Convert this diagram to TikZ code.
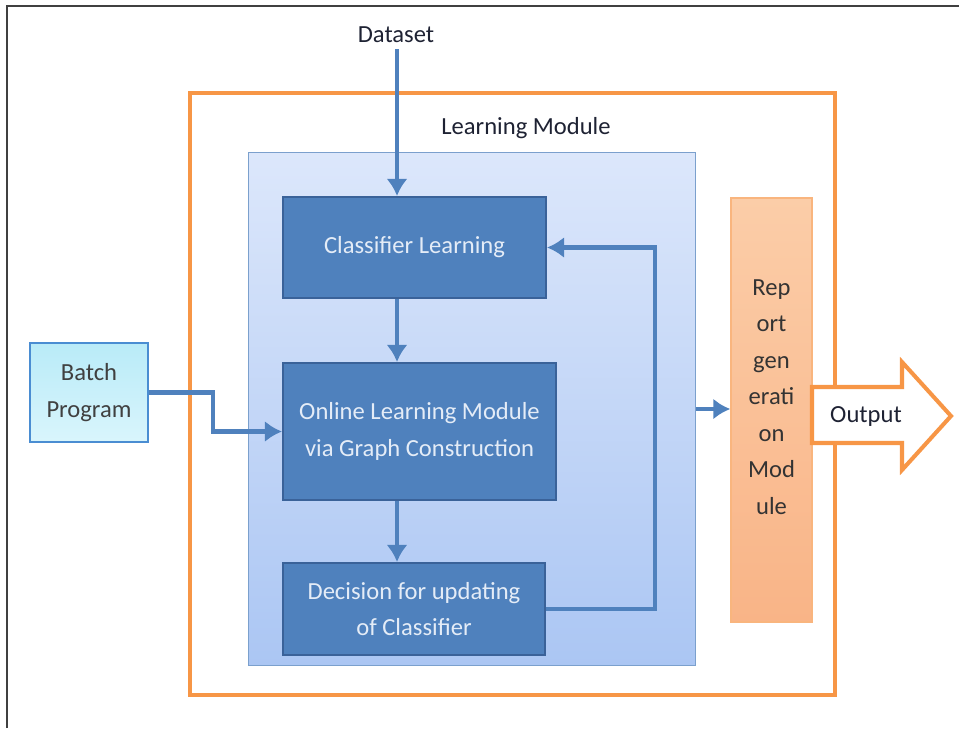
\documentclass[tikz,border=0pt]{standalone}
\usepackage{fontspec}
\setmainfont{Carlito}
\usetikzlibrary{arrows.meta}
\definecolor{offblue}{HTML}{4F81BD}
\definecolor{offblueline}{HTML}{3A6299}
\definecolor{offorange}{HTML}{F79646}
\definecolor{boxtext}{HTML}{E4ECF7}
\definecolor{darktext}{HTML}{1E2233}
\definecolor{paneltop}{HTML}{DCE7FB}
\definecolor{panelbot}{HTML}{ABC6F3}
\definecolor{batchtop}{HTML}{B9EBF8}
\definecolor{batchbot}{HTML}{D9F5FC}
\definecolor{reptop}{HTML}{FBCDA8}
\definecolor{repbot}{HTML}{F9B487}
\begin{document}
\begin{tikzpicture}[x=0.02cm,y=-0.02cm,
    every node/.style={font=\fontsize{14}{20.8}\selectfont},
    stagebox/.style={draw=offblueline,line width=1.2pt,fill=offblue,text=boxtext,align=center,inner sep=0pt},
    flow/.style={draw=offblue,line width=2.3pt,-{Latex[length=0.34cm,width=0.42cm]}}]
  \useasboundingbox (0,0) rectangle (959,728);
  % page frame
  \draw[line width=1.6pt,black!75] (7,728) -- (7,6) -- (959,6);
  % containers
  \node[draw=offorange,line width=2.3pt,minimum width=12.9cm,minimum height=12.04cm] (frame) at (512.5,394) {};
  \node[draw=offblue!75,line width=0.6pt,top color=paneltop,bottom color=panelbot,
        minimum width=8.96cm,minimum height=10.28cm] (panel) at (472,409) {};
  \node[text=darktext] (lm) at (526,128) {Learning Module};
  \node[text=darktext] (data) at (396,35) {Dataset};
  % stages
  \node[stagebox,minimum width=5.26cm,minimum height=2.02cm] (cl) at (414.5,247.5) {Classifier Learning};
  \node[stagebox,minimum width=5.46cm,minimum height=2.74cm] (olm) at (419.5,431.5) {Online Learning Module\\via Graph Construction};
  \node[stagebox,minimum width=5.24cm,minimum height=1.84cm] (dec) at (414,609) {Decision for updating\\of Classifier};
  \node[draw=cyan!55!blue!75,line width=1pt,top color=batchtop,bottom color=batchbot,text=black!75,align=center,
        minimum width=2.36cm,minimum height=1.98cm] (batch) at (89,392.5) {Batch\\Program};
  \node[draw=offorange!70,line width=0.8pt,top color=reptop,bottom color=repbot,
        minimum width=1.62cm,minimum height=8.48cm] (report) at (771.5,410) {};
  \node[text=black!80,align=center] (replabel) at (771.5,397) {Rep\\ort\\gen\\erati\\on\\Mod\\ule};
  \coordinate (col) at (397,0);
  \coordinate (fb) at (655,0);
  \coordinate (bend) at (213,0);
  % output arrow
  \draw[draw=offorange,line width=2.3pt,fill=white,line join=miter]
    (812,387) -- (902,387) -- (902,362) -- (951,416) -- (902,470) -- (902,443) -- (812,443) -- cycle;
  \node[text=darktext] (out) at (866,416) {Output};
  % connectors
  \draw[flow] (data.south -| col) -- (cl.north -| col);
  \draw[flow] (cl.south -| col) -- (olm.north -| col);
  \draw[flow] (olm.south -| col) -- (dec.north -| col);
  \draw[flow] (dec.east) -- (dec.east -| fb) -- (fb |- cl.east) -- (cl.east);
  \draw[flow] (batch.east) -- (bend |- batch.east) |- (olm.west);
  \draw[flow] (panel.east) -- (report.west |- panel.east);
\end{tikzpicture}
\end{document}
